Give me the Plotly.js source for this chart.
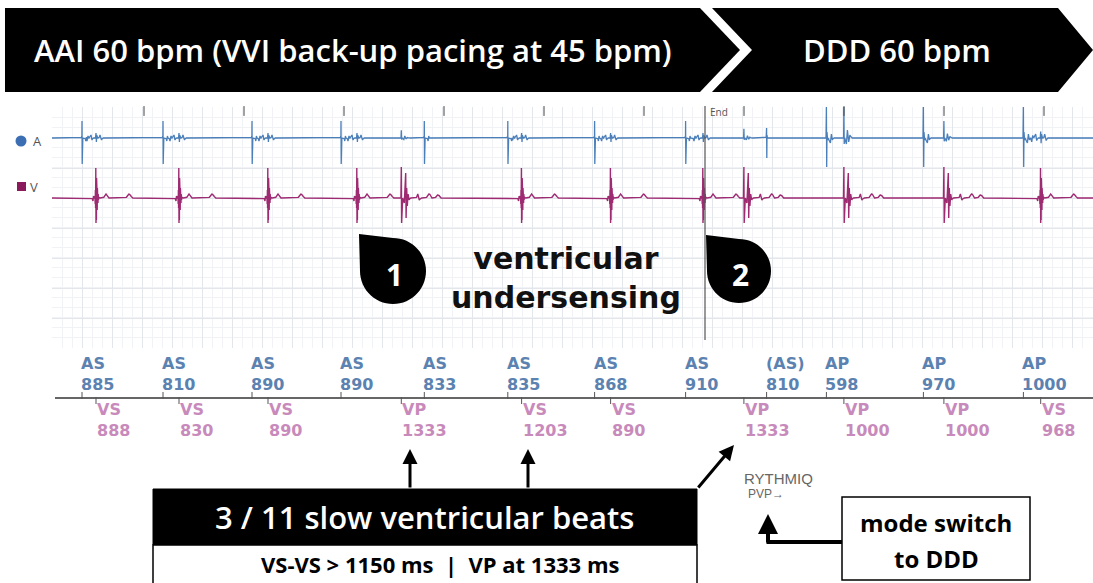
<!DOCTYPE html>
<html><head><meta charset="utf-8">
<script src="https://cdn.plot.ly/plotly-3.0.1.min.js"></script>
<style>html,body{margin:0;padding:0;background:#fff;} #chart{width:1093px;height:583px;}</style>
</head><body><div id="chart"></div>
<script>
// ---------------- DATA (times in ms from strip start) ----------------
const aLabels    = ['AS','AS','AS','AS','AS','AS','AS','AS','(AS)','AP','AP','AP'];
const aIntervals = [885, 810, 890, 890, 833, 835, 868, 910, 810, 598, 970, 1000];
const aFirstTime = 300;
const vLabels    = ['VS','VS','VS','VP','VS','VS','VP','VP','VP','VS'];
const vIntervals = [888, 830, 890, 1333, 1203, 890, 1333, 1000, 1000, 968];
const vFirstTime = 440;
const vUndersensed = [3050, 6510];          // intrinsic V complexes not sensed
const vFarFieldOnA = [1, 1, 1, 0.25, 1, 1, 0.3, 1, 0.55, 1.3]; // far-field size seen on A channel
const secondMarks = [920,1920,2920,3920,4920,5920,6920,7920,8920,9920];
const endMarkTime = 6530;
const stripEnd = 10410;

// EGM templates: [ms offset, amplitude]
const tplAS  = [[-6,0],[-3,2],[-1,0],[0,17],[2,-26],[4,5],[6,-3],[9,0],[30,0],[38,-3],[44,2],[50,0]];
const tplASs = [[-6,0],[-2,3],[0,10],[2,-20],[4,3],[7,0]];
const tplAP  = [[-4,0],[0,31],[3,-29],[6,6],[10,-3],[16,0],[40,-5],[50,4],[60,-2],[70,0]];
const tplVS  = [[-40,0],[-30,-3],[-25,2],[-20,0],[-12,0],[-10,4],[-8,-6],[-6,8],[-4,-10],[-2,30],[0,-25],[2,26],[4,-22],[6,20],[8,-18],[10,14],[12,-12],[14,10],[16,-8],[18,6],[20,-5],[22,4],[25,-2],[28,1],[32,0],[75,0],[88,3],[100,4],[112,2],[122,0],[300,0],[315,3],[330,4],[345,3],[360,0]];
const tplVP  = [[-4,0],[0,31],[3,-25],[7,-6],[14,0],[30,-5],[44,25],[48,-20],[54,10],[60,-8],[68,4],[78,-2],[88,0],[150,0],[165,4],[180,-2],[195,0],[250,0],[268,4],[285,4],[300,0],[340,0],[355,3],[375,3],[390,0]];
const tplFFs = [[-100,0],[-90,-3],[-80,2],[-70,0],[-50,3],[-40,-2],[-30,0],[-5,0],[0,5],[4,-4],[8,3],[12,0],[30,0],[40,3],[55,-2],[65,0]];
const tplFFp = [[-3,0],[0,31],[3,-6],[8,0],[25,-6],[35,8],[48,-4],[60,3],[75,0]];

// --------------- derived times ----------------
const aTimes = []; aIntervals.forEach((d,i)=>aTimes.push(i===0?aFirstTime:aTimes[i-1]+d));
const vTimes = []; vIntervals.forEach((d,i)=>vTimes.push(i===0?vFirstTime:vTimes[i-1]+d));

const W=1093,H=583;
const px=x=>x/W, py=y=>1-y/H;

function buildChannel(events, base){
  const xs=[],ys=[];
  for(let t=0;t<=stripEnd;t++){xs.push(t);ys.push(0);}
  events.forEach(ev=>{
    const tp=ev.tpl;
    for(let k=0;k<tp.length-1;k++){
      const t0=ev.t+tp[k][0], t1=ev.t+tp[k+1][0];
      for(let t=Math.ceil(t0);t<Math.ceil(t1);t++){
        if(t<0||t>stripEnd) continue;
        const f=(t-t0)/(t1-t0);
        ys[t]+=ev.g*(tp[k][1]+(tp[k+1][1]-tp[k][1])*f);
      }
    }
  });
  return {x:xs,y:ys.map(v=>v+base)};
}
const A_BASE=89.5, V_BASE=29.5;
const aEvents=[];
aTimes.forEach((t,i)=>aEvents.push({t:t,g:1,tpl:aLabels[i]==='AP'?tplAP:(aLabels[i]==='(AS)'?tplASs:tplAS)}));
vTimes.forEach((t,i)=>aEvents.push({t:t,g:vFarFieldOnA[i],tpl:vLabels[i]==='VP'?tplFFp:tplFFs}));
vUndersensed.forEach(t=>aEvents.push({t:t,g:1,tpl:tplFFs}));
const vEvents=[];
vTimes.forEach((t,i)=>vEvents.push({t:t,g:1,tpl:vLabels[i]==='VP'?tplVP:tplVS}));
vUndersensed.forEach(t=>vEvents.push({t:t,g:1,tpl:tplVS}));
const aWave=buildChannel(aEvents,A_BASE), vWave=buildChannel(vEvents,V_BASE);

const traces=[
  {x:aWave.x,y:aWave.y,type:'scatter',mode:'lines',line:{color:'#4a7fba',width:1.3},hoverinfo:'skip'},
  {x:vWave.x,y:vWave.y,type:'scatter',mode:'lines',line:{color:'#9e2a72',width:1.4},hoverinfo:'skip'},
  {x:secondMarks,y:secondMarks.map(()=>116.5),type:'scatter',mode:'markers',marker:{symbol:'line-ns-open',size:7,color:'#444',line:{color:'#444',width:1}},cliponaxis:false,hoverinfo:'skip'},
  {x:[30,stripEnd],y:[52,52],xaxis:'x2',yaxis:'y2',type:'scatter',mode:'lines',line:{color:'#333',width:1.3},hoverinfo:'skip'},
  {x:aTimes,y:aTimes.map(()=>54.5),xaxis:'x2',yaxis:'y2',type:'scatter',mode:'markers',marker:{symbol:'line-ns-open',size:5,color:'#555',line:{color:'#555',width:1}},hoverinfo:'skip'},
  {x:vTimes,y:vTimes.map(()=>49.5),xaxis:'x2',yaxis:'y2',type:'scatter',mode:'markers',marker:{symbol:'line-ns-open',size:5,color:'#555',line:{color:'#555',width:1}},hoverinfo:'skip'}
];

const shapes=[], ann=[];
function poly(pts,fill){
  let d='M '+pts.map(p=>px(p[0]).toFixed(5)+','+py(p[1]).toFixed(5)).join(' L ')+' Z';
  shapes.push({type:'path',xref:'paper',yref:'paper',path:d,fillcolor:fill,line:{color:fill,width:0},layer:'above'});
}
function txt(x,y,t,size,color,opts){
  const o=Object.assign({family:'Open Sans',weight:400},opts||{});
  ann.push({xref:'paper',yref:'paper',x:px(x),y:py(y),text:t,showarrow:false,
    font:{family:o.family,size:size,color:color,weight:o.weight},xanchor:o.xanchor||'center',yanchor:'middle'});
}
// banner
poly([[5,8],[700,8],[740,50],[700,92],[5,92]],'#000');
poly([[712,8],[1058,8],[1093,50],[1058,92],[712,92],[752,50]],'#000');
txt(353,50,'AAI 60 bpm (VVI back-up pacing at 45 bpm)',31,'#fff',{weight:600});
txt(897,50,'DDD 60 bpm',31,'#fff',{weight:600});
// legend
shapes.push({type:'circle',xref:'paper',yref:'paper',x0:px(15.5),x1:px(26.5),y0:py(146.5),y1:py(135.5),fillcolor:'#3c6eb4',line:{width:0}});
shapes.push({type:'rect',xref:'paper',yref:'paper',x0:px(17),x1:px(26),y0:py(191),y1:py(182),fillcolor:'#8b1a5a',line:{width:0}});
txt(31,141,'A',13,'#555',{xanchor:'left'});
txt(28,187,'V',13,'#555',{xanchor:'left'});
// End marker
shapes.push({type:'line',xref:'x',yref:'paper',x0:endMarkTime,x1:endMarkTime,y0:py(340),y1:py(106),line:{color:'#555',width:1.2}});
ann.push({xref:'x',yref:'paper',x:endMarkTime,y:py(112),text:'End',showarrow:false,xanchor:'left',xshift:3,yanchor:'middle',font:{family:'Open Sans',size:10,color:'#555'}});
// teardrops
function drop(cx,cy,r,label){
  const pts=[];
  for(let a=-90;a<=180;a+=6){const th=a*Math.PI/180;pts.push([cx+r*Math.cos(th),cy+r*Math.sin(th)]);}
  pts.push([cx-r-1,cy-r-4]);
  poly(pts,'#000');
  txt(cx+1,cy+3,label,30,'#fff',{weight:700});
}
drop(393,271,33,'1');
drop(739,271,32,'2');
txt(566,278,'ventricular<br>undersensing',30,'#111',{family:'DejaVu Sans',weight:700});
// marker labels
const aCol='#5b82b0', vCol='#c88abb';
const lblFont={family:'DejaVu Sans',size:16,weight:700};
aTimes.forEach((t,i)=>{
  ann.push({xref:'x2',yref:'y2',x:t,y:76,text:aLabels[i]+'<br>'+aIntervals[i],showarrow:false,align:'left',xanchor:'left',xshift:-3,yanchor:'middle',font:Object.assign({color:aCol},lblFont)});
});
vTimes.forEach((t,i)=>{
  ann.push({xref:'x2',yref:'y2',x:t,y:30,text:vLabels[i]+'<br>'+vIntervals[i],showarrow:false,align:'left',xanchor:'left',xshift:-1,yanchor:'middle',font:Object.assign({color:vCol},lblFont)});
});
// bottom box
shapes.push({type:'rect',xref:'paper',yref:'paper',x0:px(153),x1:px(697),y0:py(545),y1:py(489),fillcolor:'#000',line:{color:'#000',width:1}});
shapes.push({type:'rect',xref:'paper',yref:'paper',x0:px(153),x1:px(697),y0:py(595),y1:py(545),fillcolor:'#fff',line:{color:'#000',width:1.5}});
txt(424,517,'3 / 11 slow ventricular beats',31,'#fff',{weight:600});
txt(440,564,'VS-VS &gt; 1150 ms  |  VP at 1333 ms',22,'#000',{weight:700});
function arrow(x,y,x0,y0,w){
  ann.push({xref:'paper',yref:'paper',x:px(x),y:py(y),ax:px(x0),ay:py(y0),axref:'paper',ayref:'paper',text:'',showarrow:true,arrowhead:2,arrowsize:1,arrowwidth:w||3,arrowcolor:'#000'});
}
arrow(410,449,410,489);
arrow(528,449,528,489);
arrow(734,445,697,489);
// mode switch
shapes.push({type:'rect',xref:'paper',yref:'paper',x0:px(842),x1:px(1030),y0:py(580),y1:py(497),fillcolor:'#fff',line:{color:'#000',width:1.5}});
txt(936,522,'mode switch',24,'#000',{weight:700});
txt(936,558,'to DDD',24,'#000',{weight:700});
shapes.push({type:'line',xref:'paper',yref:'paper',x0:px(842),x1:px(766.5),y0:py(542),y1:py(542),line:{color:'#000',width:4}});
arrow(768,514,768,544,4);
txt(742,478,'RYTHMIQ',15,'#666',{family:'Liberation Sans',xanchor:'left'});
txt(746,494,'PVP→',12,'#666',{family:'Liberation Sans',xanchor:'left'});

const layout={
  width:W,height:H,margin:{l:0,r:0,t:0,b:0},paper_bgcolor:'#fff',plot_bgcolor:'rgba(0,0,0,0)',showlegend:false,
  xaxis:{domain:[px(52),1],range:[0,stripEnd],showgrid:true,gridcolor:'#e3e6eb',gridwidth:1,tick0:0,dtick:300,
    minor:{dtick:100,showgrid:true,gridcolor:'#f1f2f5'},showticklabels:false,zeroline:false,ticks:'',showline:false,fixedrange:true},
  yaxis:{domain:[py(348),py(107)],range:[-120.5,120.5],showgrid:true,gridcolor:'#e3e6eb',tick0:-120.5,dtick:30,
    minor:{dtick:10,showgrid:true,gridcolor:'#f1f2f5'},showticklabels:false,zeroline:false,ticks:'',fixedrange:true},
  xaxis2:{domain:[px(52),1],range:[0,stripEnd],anchor:'y2',visible:false,fixedrange:true},
  yaxis2:{domain:[py(450),py(340)],range:[0,110],anchor:'x2',visible:false,fixedrange:true},
  shapes:shapes,annotations:ann
};
Plotly.newPlot('chart',traces,layout,{staticPlot:true,displayModeBar:false});
</script></body></html>
